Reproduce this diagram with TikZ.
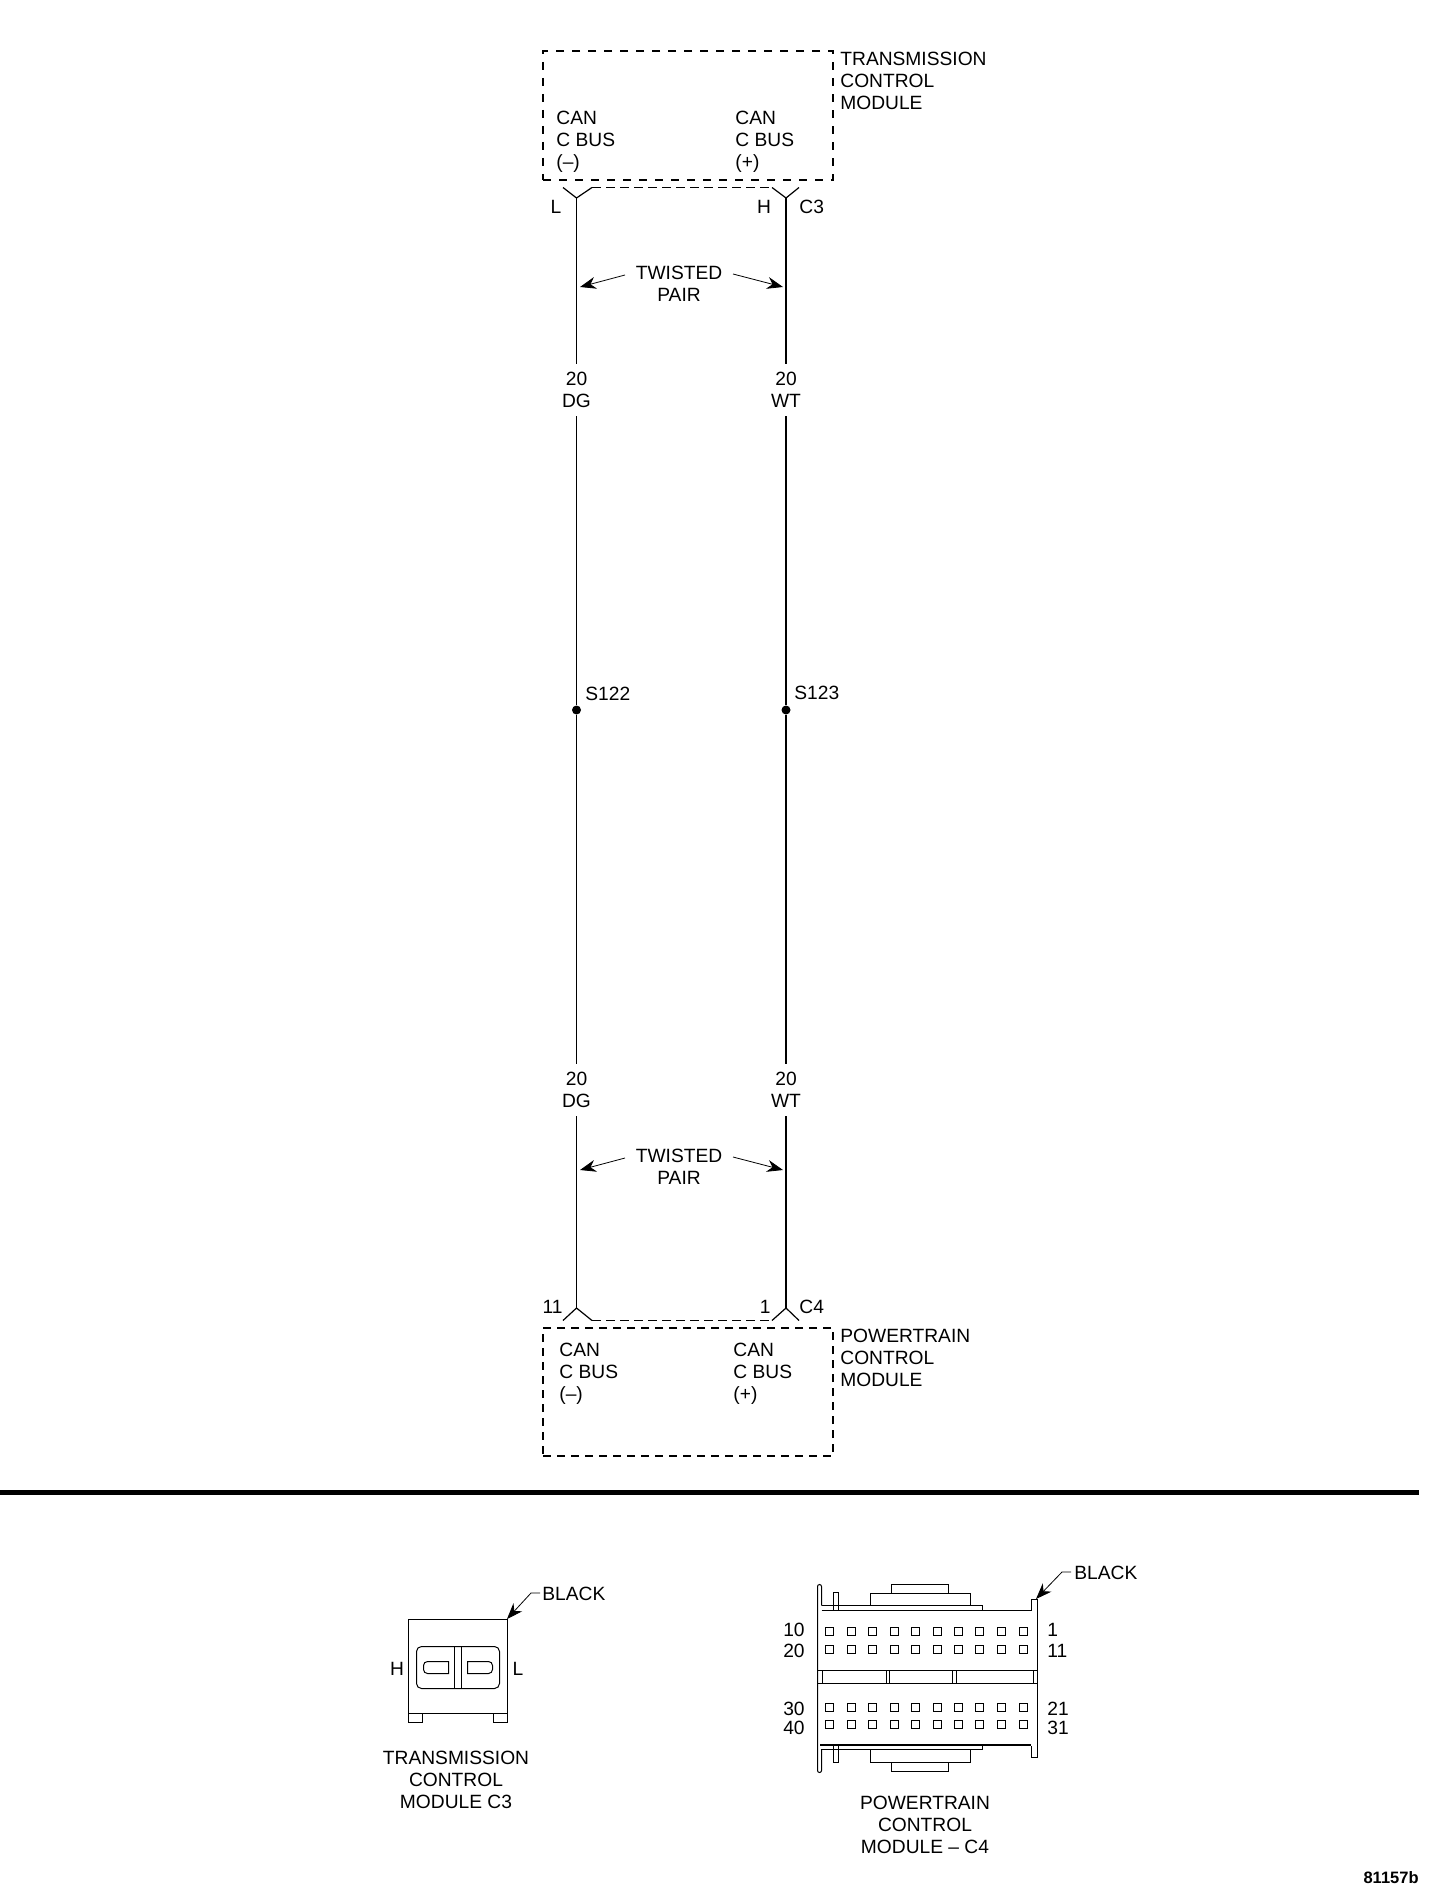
\documentclass[tikz,border=0pt]{standalone}
\usepackage{fontspec}
\setmainfont{Liberation Sans}
\usetikzlibrary{arrows.meta}
\tikzset{
    lbl/.style={inner sep=0pt,align=left,font=\fontsize{9.6}{11}\selectfont},
    lblc/.style={lbl,align=center},
    gauge/.style={lblc,inner sep=4pt,fill=white},
    modbox/.style={draw,line width=0.7pt,dash pattern=on 4pt off 4pt},
    wirel/.style={line width=0.5pt},
    wirer/.style={line width=1pt},
    seat/.style={line width=0.6pt},
    seam/.style={line width=0.5pt,dash pattern=on 4.5pt off 2.5pt},
    pointer/.style={line width=0.4pt,-{Stealth[length=8pt,width=6pt]}},
    part/.style={line width=0.5pt,shift={(0.5,0.5)}},
    splice/.style={circle,fill=black,inner sep=0pt,minimum size=4.5pt}
}
\begin{document}
\begin{tikzpicture}[x=0.5pt,y=-0.5pt]
    \useasboundingbox (0,0) rectangle (1440,1888);
    % modules
    \node [modbox,minimum width=145pt,minimum height=64.5pt] (tcm) at (688,115.5) {};
    \node [modbox,line width=0.6pt,dash pattern=on 4pt off 3pt,minimum width=145pt,minimum height=64pt] (pcm) at (688,1392) {};
    \node [lbl,anchor=west] (tcmname) at (840,81) {TRANSMISSION\\CONTROL\\MODULE};
    \node [lbl,anchor=west] (pcmname) at (840,1358) {POWERTRAIN\\CONTROL\\MODULE};
    \node [lbl,anchor=west] (tcmneg) at (556,141.5) {CAN\\C BUS\\(–)};
    \node [lbl,anchor=west] (tcmpos) at (735,141.5) {CAN\\C BUS\\(+)};
    \node [lbl,anchor=west] (pcmneg) at (559,1373.5) {CAN\\C BUS\\(–)};
    \node [lbl,anchor=west] (pcmpos) at (733,1373.5) {CAN\\C BUS\\(+)};
    % connector C3
    \coordinate (c3la) at (563,187.5);
    \coordinate (c3lb) at (592,187.5);
    \coordinate (c3ra) at (772,187.5);
    \coordinate (c3rb) at (799,187.5);
    \coordinate (c3l) at (576.5,198);
    \coordinate (c3r) at (786,198);
    \draw [seat] (c3la) -- (c3l) -- (c3lb);
    \draw [seat] (c3ra) -- (c3r) -- (c3rb);
    \draw [seam] (c3lb) -- (c3ra);
    \node [lbl] (pinL) at (556,207) {L};
    \node [lbl] (pinH) at (764,207) {H};
    \node [lbl,anchor=west] (nameC3) at (799,207) {C3};
    % connector C4
    \coordinate (c4la) at (563,1320.5);
    \coordinate (c4lb) at (592,1320.5);
    \coordinate (c4ra) at (772,1320.5);
    \coordinate (c4rb) at (799,1320.5);
    \coordinate (c4l) at (576.5,1308);
    \coordinate (c4r) at (786,1308);
    \draw [seat] (c4la) -- (c4l) -- (c4lb);
    \draw [seat] (c4ra) -- (c4r) -- (c4rb);
    \draw [seam] (c4lb) -- (c4ra);
    \node [lbl,anchor=east] (pin11) at (563,1307) {11};
    \node [lbl,anchor=east] (pin1) at (771,1307) {1};
    \node [lbl,anchor=west] (nameC4) at (799,1307) {C4};
    % wires
    \node [gauge] (dgtop) at (576.5,390) {20\\DG};
    \node [gauge] (wttop) at (786,390) {20\\WT};
    \node [gauge] (dgbot) at (576.5,1090) {20\\DG};
    \node [gauge] (wtbot) at (786,1090) {20\\WT};
    \node [splice] (s122) at (576.5,710) {};
    \node [splice] (s123) at (786,710) {};
    \node [lbl,anchor=west] (s122name) at (585,694) {S122};
    \node [lbl,anchor=west] (s123name) at (794,693) {S123};
    \draw [wirel] (c3l) -- (dgtop) -- (s122) -- (dgbot) -- (c4l);
    \draw [wirer] (c3r) -- (wttop) -- (s123) -- (wtbot) -- (c4r);
    % twisted pair notes
    \foreach \nm/\yy in {up/0,dn/883} {
        \node [lblc] (pair\nm) at (679,284+\yy) {TWISTED\\PAIR};
        \coordinate (pair\nm a) at (625,275+\yy);
        \coordinate (pair\nm b) at (733,274+\yy);
        \coordinate (pair\nm c) at (580,287+\yy);
        \coordinate (pair\nm d) at (783,287+\yy);
        \draw [pointer] (pair\nm a) -- (pair\nm c);
        \draw [pointer] (pair\nm b) -- (pair\nm d);
    }
    % rule
    \fill (0,1490) rectangle (1419,1495);
    % C3 view
    \draw [part] (408,1619) rectangle (507,1713);
    \draw [part] (408,1713) -- (408,1722) -- (422,1722) -- (422,1713);
    \draw [part] (493,1713) -- (493,1722) -- (507,1722) -- (507,1713);
    \draw [part,rounded corners=2.5pt] (416,1646) rectangle (499,1688);
    \draw [part] (454,1646) -- (454,1688) (461,1646) -- (461,1688);
    \draw [part] (448,1661) [rounded corners=2pt] -- (423,1661) -- (423,1673) [sharp corners] -- (448,1673) -- cycle;
    \draw [part] (467,1661) [rounded corners=2pt] -- (492,1661) -- (492,1673) [sharp corners] -- (467,1673) -- cycle;
    \node [lbl] (viewH) at (397,1669) {H};
    \node [lbl] (viewL) at (518,1669) {L};
    \node [lbl,anchor=west] (blackA) at (542,1594) {BLACK};
    \coordinate (blackAa) at (540,1593);
    \coordinate (blackAb) at (531,1593);
    \coordinate (blackAc) at (507,1619);
    \draw [pointer] (blackAa) -- (blackAb) -- (blackAc);
    \node [lblc] (viewA) at (456,1780) {TRANSMISSION\\CONTROL\\MODULE C3};
    % C4 view
    \draw [part,rounded corners=1pt] (821,1605) -- (821,1584) -- (817,1584) -- (817,1772) -- (821,1772) -- (821,1749);
    \draw [part] (821,1610) -- (1031,1610) -- (1031,1599) -- (1037,1599) -- (1037,1757) -- (1031,1757) -- (1031,1745);
    \draw [part] (821,1605) -- (982,1605) -- (982,1610);
    \draw [part] (870,1605) -- (870,1593) -- (970,1593) -- (970,1605);
    \draw [part] (891,1593) -- (891,1584) -- (948,1584) -- (948,1593);
    \draw [part] (833,1610) -- (833,1592) -- (838,1592) -- (838,1610);
    \draw [part] (817,1670) rectangle (1037,1683);
    \foreach \xa in {822,886,889,952,956,1033} {
        \draw [part] (\xa,1670) -- (\xa,1683);
    }
    \draw [line width=1pt] (820,1745) -- (1031,1745);
    \draw [part] (820,1749) -- (982,1749) -- (982,1745);
    \draw [part] (870,1749) -- (870,1762) -- (970,1762) -- (970,1749);
    \draw [part] (891,1762) -- (891,1771) -- (948,1771) -- (948,1762);
    \draw [part] (833,1745) -- (833,1762) -- (838,1762) -- (838,1745);
    \foreach \xa in {829,851,872,894,915,937,958,979,1001,1023} {
        \foreach \ya in {1631,1649,1707,1724} {
            \draw [part] (\xa-4,\ya-4) rectangle (\xa+4,\ya+4);
        }
    }
    \foreach \nm/\ya in {10/1630,20/1651,30/1709,40/1728} {
        \node [lbl,anchor=east] (left\nm) at (805,\ya) {\nm};
    }
    \foreach \nm/\ya in {1/1630,11/1651,21/1709,31/1728} {
        \node [lbl,anchor=west] (right\nm) at (1047,\ya) {\nm};
    }
    \node [lbl,anchor=west] (blackB) at (1074,1573) {BLACK};
    \coordinate (blackBa) at (1071,1572);
    \coordinate (blackBb) at (1062,1572);
    \coordinate (blackBc) at (1036,1599);
    \draw [pointer] (blackBa) -- (blackBb) -- (blackBc);
    \node [lblc] (viewB) at (925,1825) {POWERTRAIN\\CONTROL\\MODULE -- C4};
    % drawing number
    \node [lbl,anchor=east,font=\fontsize{8.25}{10}\selectfont\bfseries] (drawno) at (1419,1878) {81157b};
\end{tikzpicture}
\end{document}
